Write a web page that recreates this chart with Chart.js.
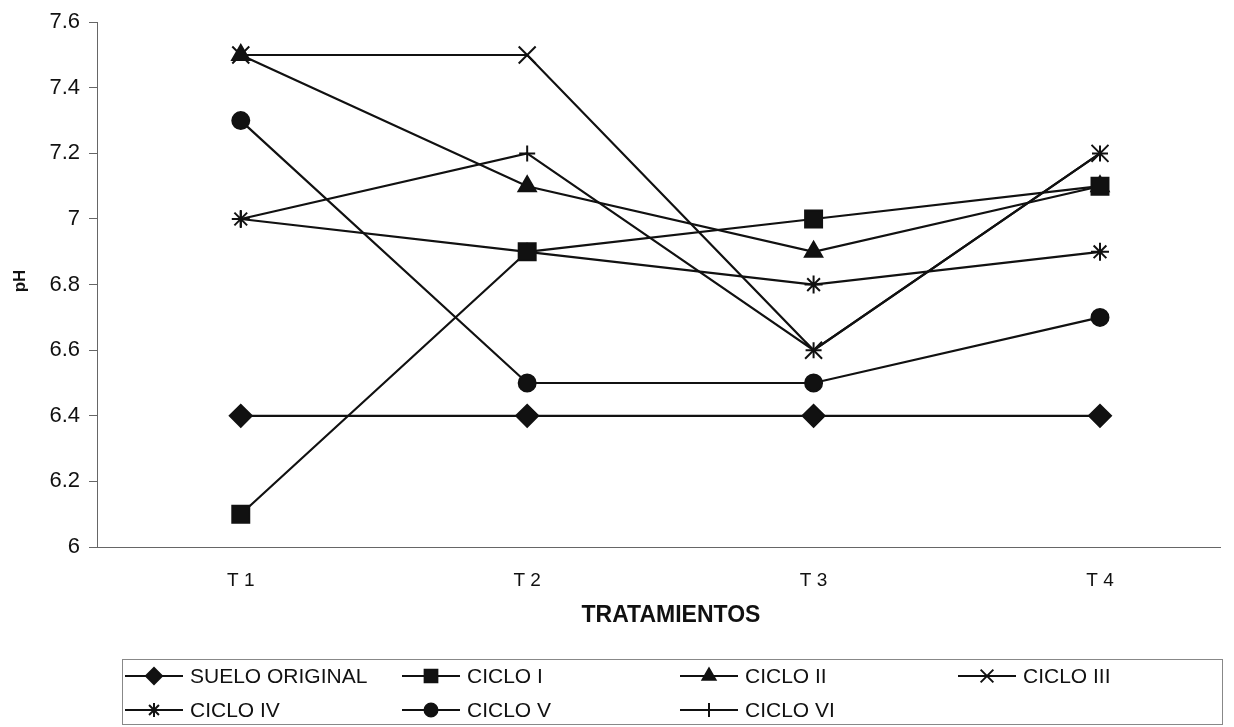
<!DOCTYPE html>
<html>
<head>
<meta charset="utf-8">
<script src="https://cdn.jsdelivr.net/npm/chart.js@4/dist/chart.umd.min.js"></script>
<style>
  html, body { margin: 0; padding: 0; background: #fff; }
  #wrap { width: 1234px; height: 727px; position: relative; }
</style>
</head>
<body>
<div id="wrap"><canvas id="phChart"></canvas></div>
<script>
const categories = ['T 1', 'T 2', 'T 3', 'T 4'];
const yTicks = [6, 6.2, 6.4, 6.6, 6.8, 7, 7.2, 7.4, 7.6];

const sueloOriginal = [6.4, 6.4, 6.4, 6.4];
const ciclo1 = [6.1, 6.9, 7.0, 7.1];
const ciclo2 = [7.5, 7.1, 6.9, 7.1];
const ciclo3 = [7.5, 7.5, 6.6, 7.2];
const ciclo4 = [7.0, 6.9, 6.8, 6.9];
const ciclo5 = [7.3, 6.5, 6.5, 6.7];
const ciclo6 = [7.0, 7.2, 6.6, 7.2];

const ink = '#111';
const sans = '"Liberation Sans", Arial, sans-serif';

const toPoints = (arr) => arr.map((v, i) => ({ x: i + 1, y: v }));

const makeSet = (label, data, style, radius, legendRadius) => ({
  label: label,
  data: toPoints(data),
  borderColor: ink,
  backgroundColor: ink,
  borderWidth: 2.2,
  pointStyle: style,
  pointRadius: radius,
  pointHoverRadius: radius,
  pointBackgroundColor: ink,
  pointBorderColor: ink,
  pointBorderWidth: 2,
  legendRadius: legendRadius,
  tension: 0,
});

// legend slots: [line start x, row y]
const legendSlots = [
  [125, 676], [402, 676], [680, 676], [958, 676],
  [125, 710], [402, 710], [680, 710],
];

const extrasPlugin = {
  id: 'extras',
  afterDraw(chart) {
    const ctx = chart.ctx;
    const xs = chart.scales.x;
    ctx.save();
    ctx.fillStyle = ink;
    ctx.textAlign = 'center';
    ctx.textBaseline = 'middle';

    // x tick labels
    ctx.font = '19px ' + sans;
    categories.forEach((c, i) => {
      ctx.fillText(c, xs.getPixelForValue(i + 1), 581);
    });

    // axis titles
    ctx.font = 'bold 23px ' + sans;
    ctx.fillText('TRATAMIENTOS', 671, 616);
    ctx.save();
    ctx.translate(20, 281);
    ctx.rotate(-Math.PI / 2);
    ctx.font = 'bold 17px ' + sans;
    ctx.fillText('pH', 0, 0);
    ctx.restore();

    // legend box
    ctx.strokeStyle = '#888';
    ctx.lineWidth = 1;
    ctx.strokeRect(122.5, 659.5, 1100, 65);

    ctx.font = '21px ' + sans;
    ctx.textAlign = 'left';
    chart.data.datasets.forEach((ds, i) => {
      const [x0, y] = legendSlots[i];
      ctx.strokeStyle = ink;
      ctx.lineWidth = 2;
      ctx.beginPath();
      ctx.moveTo(x0, y);
      ctx.lineTo(x0 + 58, y);
      ctx.stroke();
      ctx.fillStyle = ink;
      Chart.helpers.drawPoint(ctx, {
        pointStyle: ds.pointStyle,
        radius: ds.legendRadius,
        borderWidth: 2,
        rotation: 0,
      }, x0 + 29, y);
      ctx.fillStyle = ink;
      ctx.fillText(ds.label, x0 + 65, y + 1);
    });
    ctx.restore();
  }
};

new Chart(document.getElementById('phChart'), {
  type: 'line',
  data: {
    datasets: [
      makeSet('SUELO ORIGINAL', sueloOriginal, 'rectRot', 11, 8),
      makeSet('CICLO I', ciclo1, 'rect', 12, 9),
      makeSet('CICLO II', ciclo2, 'triangle', 10, 7.5),
      makeSet('CICLO III', ciclo3, 'crossRot', 12, 9),
      makeSet('CICLO IV', ciclo4, 'star', 9, 7),
      makeSet('CICLO V', ciclo5, 'circle', 8.5, 6.5),
      makeSet('CICLO VI', ciclo6, 'cross', 8, 7),
    ]
  },
  options: {
    responsive: true,
    maintainAspectRatio: false,
    animation: false,
    layout: {
      padding: { top: 20, right: 0, left: 0, bottom: 0 }
    },
    scales: {
      x: {
        type: 'linear',
        min: 0.498,
        max: 4.419,
        afterBuildTicks: (scale) => {
          scale.ticks = categories.map((c, i) => ({ value: i + 1 }));
        },
        afterFit: (scale) => {
          scale.height = 180;
        },
        grid: {
          display: false,
          drawTicks: false,
        },
        border: {
          display: true,
          color: '#666',
          width: 1,
        },
        ticks: {
          display: false,
        }
      },
      y: {
        min: 6,
        max: 7.6,
        afterBuildTicks: (scale) => {
          scale.ticks = yTicks.map(v => ({ value: v }));
        },
        afterFit: (scale) => {
          scale.width = 97;
        },
        grid: {
          display: true,
          drawOnChartArea: false,
          tickLength: 8,
          color: '#666',
        },
        border: {
          display: true,
          color: '#666',
          width: 1,
        },
        ticks: {
          padding: 9,
          color: ink,
          font: { family: sans, size: 22 },
          callback: (value) => String(Math.round(value * 10) / 10),
        }
      }
    },
    plugins: {
      legend: { display: false },
      tooltip: { enabled: false },
    }
  },
  plugins: [extrasPlugin]
});
</script>
</body>
</html>
